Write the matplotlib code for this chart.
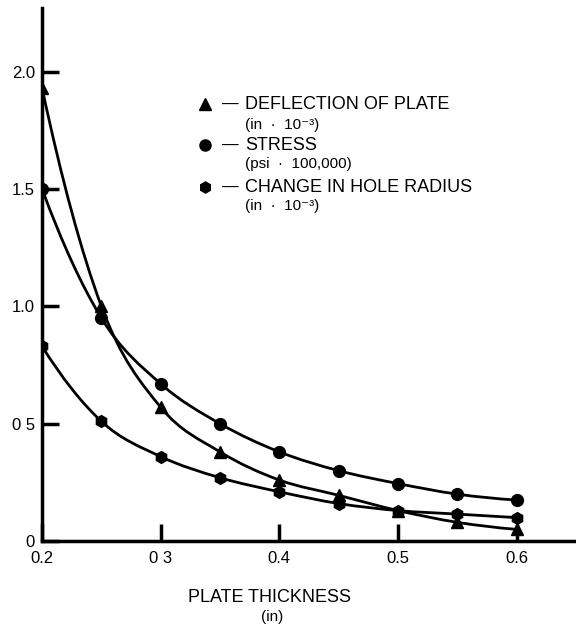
import numpy as np
import matplotlib
matplotlib.use('Agg')
import matplotlib.pyplot as plt
from matplotlib.path import Path
from matplotlib.patches import PathPatch

plt.rcParams['font.family'] = ['Liberation Sans', 'DejaVu Sans']

# data
thickness = [0.20, 0.25, 0.30, 0.35, 0.40, 0.45, 0.50, 0.55, 0.60]
deflection = [1.93, 1.00, 0.57, 0.38, 0.26, 0.195, 0.13, 0.08, 0.05]
stress = [1.50, 0.95, 0.67, 0.50, 0.38, 0.30, 0.245, 0.20, 0.175]
hole_radius = [0.83, 0.51, 0.36, 0.27, 0.21, 0.16, 0.13, 0.115, 0.10]

x_ticks = [0.2, 0.3, 0.4, 0.5, 0.6]
x_tick_labels = ['0.2', '0 3', '0.4', '0.5', '0.6']
y_ticks = [0, 0.5, 1.0, 1.5, 2.0]
y_tick_labels = ['0', '0 5', '1.0', '1.5', '2.0']


def smooth_path(xs, ys):
    """Cubic bezier through the data points (Catmull-Rom style tangents)"""
    p = np.column_stack([xs, ys]).astype(float)
    n = len(p)
    d = np.zeros_like(p)
    d[1:-1] = (p[2:] - p[:-2]) / 2
    d[0] = (-3 * p[0] + 4 * p[1] - p[2]) / 2
    d[-1] = (3 * p[-1] - 4 * p[-2] + p[-3]) / 2
    verts = [p[0]]
    codes = [Path.MOVETO]
    for i in range(n - 1):
        verts += [p[i] + d[i] / 3, p[i + 1] - d[i + 1] / 3, p[i + 1]]
        codes += [Path.CURVE4] * 3
    return Path(verts, codes)


fig = plt.figure(figsize=(5.76, 6.27), dpi=100)
ax = fig.add_axes([0.073, 0.137, 0.927, 0.85])

lw = 2.0
for ys, mk, ms in [(deflection, '^', 8), (stress, 'o', 8.5), (hole_radius, 'h', 8.5)]:
    ax.add_patch(PathPatch(smooth_path(thickness, ys), fill=False,
                           lw=lw, color='black', zorder=2))
    ax.plot(thickness, ys, ls='none', marker=mk, ms=ms, color='black', zorder=3)

ax.set_xlim(0.2, 0.65)
ax.set_ylim(0, 2.27)

for s in ['top', 'right']:
    ax.spines[s].set_visible(False)
for s in ['left', 'bottom']:
    ax.spines[s].set_linewidth(2.5)

ax.set_xticks(x_ticks)
ax.set_xticklabels(x_tick_labels, fontsize=12)
ax.set_yticks(y_ticks)
ax.set_yticklabels(y_tick_labels, fontsize=12)
ax.tick_params(axis='both', direction='in', width=2.5, length=12, color='black')
ax.tick_params(axis='x', pad=7)
ax.tick_params(axis='y', pad=5)

# legend drawn by hand
rows = [(0.820, 0.781, '^', 'DEFLECTION OF PLATE', '(in  ·  10⁻³)'),
        (0.743, 0.708, 'o', 'STRESS', '(psi  ·  100,000)'),
        (0.664, 0.629, 'h', 'CHANGE IN HOLE RADIUS', '(in  ·  10⁻³)')]
for y, y2, mk, title, unit in rows:
    ax.plot([0.305], [y], marker=mk, ms=8, color='black', ls='none',
            transform=ax.transAxes, clip_on=False)
    ax.text(0.337, y, '—', transform=ax.transAxes,
            fontsize=12, va='center', ha='left')
    ax.text(0.380, y, title, transform=ax.transAxes,
            fontsize=13, va='center', ha='left')
    ax.text(0.380, y2, unit, transform=ax.transAxes,
            fontsize=11, va='center', ha='left')

fig.text(270 / 576, 1 - 597 / 627, 'PLATE THICKNESS', ha='center', va='center', fontsize=13)
fig.text(272 / 576, 1 - 617 / 627, '(in)', ha='center', va='center', fontsize=11)

plt.savefig('out.png', dpi=100)
plt.close()
